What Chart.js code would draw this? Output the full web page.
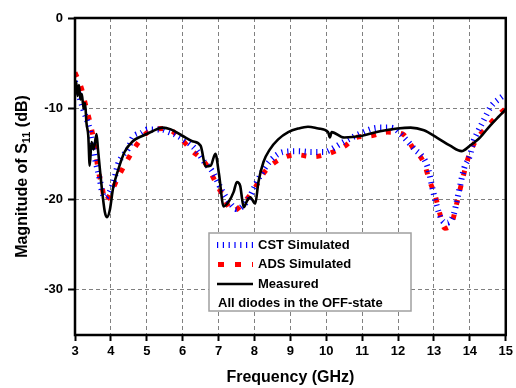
<!DOCTYPE html>
<html>
<head>
<meta charset="utf-8">
<script src="https://cdn.jsdelivr.net/npm/chart.js@4.4.0/dist/chart.umd.min.js"></script>
<style>
html,body{margin:0;padding:0;background:#fff;}
#wrap{width:516px;height:388px;position:relative;}
</style>
</head>
<body>
<div id="wrap"><canvas id="c" width="516" height="388"></canvas></div>
<script>
// ---- data ----
const freqMeasured = [3.00,3.03,3.07,3.11,3.15,3.19,3.24,3.28,3.32,3.37,3.41,3.46,3.52,3.60,3.64,3.74,3.83,3.89,3.97,4.06,4.20,4.38,4.61,4.89,5.16,5.44,5.67,5.99,6.27,6.50,6.64,6.78,6.91,7.01,7.14,7.28,7.42,7.51,7.60,7.70,7.79,7.88,8.02,8.11,8.25,8.43,8.66,8.94,9.22,9.49,9.78,10.05,10.10,10.15,10.50,11.00,11.50,11.98,12.35,12.72,13.08,13.45,13.77,14.00,14.28,14.56,14.80,15.00];
const magMeasured  = [-8.0,-7.0,-8.6,-7.4,-9.0,-8.4,-10.0,-9.4,-11.6,-13.0,-16.3,-13.7,-14.5,-12.8,-14.5,-18.5,-21.4,-22.0,-21.2,-18.8,-16.8,-14.8,-13.6,-13.0,-12.5,-12.1,-12.3,-13.0,-13.6,-14.1,-16.4,-16.3,-15.0,-17.2,-20.8,-20.3,-19.2,-18.1,-18.5,-20.9,-20.2,-19.8,-20.5,-18.1,-15.9,-14.5,-13.4,-12.6,-12.2,-12.0,-12.2,-12.6,-13.2,-12.6,-13.2,-13.0,-12.5,-12.2,-12.1,-12.4,-13.2,-14.1,-14.7,-14.1,-13.2,-11.9,-10.9,-10.1];

const freqADS = [3.00,3.19,3.30,3.41,3.51,3.58,3.64,3.74,3.84,4.01,4.20,4.43,4.70,5.07,5.53,5.90,6.22,6.64,6.90,7.12,7.39,7.74,8.02,8.30,8.71,9.17,9.63,10.04,10.49,10.83,11.24,11.70,12.12,12.44,12.72,12.88,13.04,13.15,13.30,13.50,13.62,13.71,13.82,13.94,14.14,14.46,14.88,15.00];
const magADS  = [-6.0,-7.9,-9.7,-11.4,-13.2,-14.8,-16.7,-18.3,-20.2,-19.2,-17.6,-15.9,-14.1,-12.5,-12.2,-13.1,-14.5,-16.1,-18.0,-19.6,-21.3,-20.2,-18.7,-16.9,-15.6,-15.1,-15.3,-15.0,-14.2,-13.2,-13.0,-12.6,-12.8,-14.5,-16.0,-18.0,-19.7,-21.4,-23.2,-22.6,-20.7,-19.2,-17.4,-15.6,-13.7,-12.1,-10.4,-10.0];

const freqCST = [3.00,3.23,3.41,3.55,3.69,3.75,3.83,4.06,4.20,4.29,4.47,4.61,4.84,5.02,5.40,5.62,5.81,6.13,6.36,6.64,6.82,7.10,7.33,7.51,7.83,7.97,8.16,8.43,8.80,9.22,9.58,9.95,10.14,10.39,10.92,11.29,11.52,11.70,11.89,12.07,12.44,12.81,13.04,13.22,13.36,13.54,13.68,13.84,14.00,14.10,14.19,14.37,14.60,14.79,15.00];
const magCST  = [-7.0,-10.1,-12.3,-15.4,-17.8,-19.1,-19.8,-18.3,-16.1,-15.4,-14.5,-13.2,-12.7,-12.3,-12.3,-12.6,-12.9,-13.7,-14.5,-16.1,-16.9,-19.1,-20.5,-21.1,-20.0,-18.9,-17.4,-15.8,-14.8,-14.7,-14.8,-14.8,-14.5,-13.9,-12.8,-12.2,-12.1,-12.1,-12.2,-12.8,-14.4,-16.3,-20.2,-22.3,-22.6,-21.8,-19.4,-16.6,-15.2,-13.6,-12.8,-11.4,-9.7,-9.0,-8.4];

const xTickValues = [3,4,5,6,7,8,9,10,11,12,13,14,15];
const yTickValues = [0,-10,-20,-30];
const seriesNames = ['CST Simulated','ADS Simulated','Measured'];
const noteText = 'All diodes in the OFF-state';

function pts(xs, ys){ return xs.map((x,i)=>({x:x, y:ys[i]})); }

const FONT = '"Liberation Sans", Arial, sans-serif';

const framePlugin = {
  id:'frame',
  afterDatasetsDraw(chart){
    const ctx = chart.ctx, a = chart.chartArea;
    ctx.save();
    // legend box
    const lx=209, ly=233, lw=202, lh=78;
    ctx.fillStyle='#fff';
    ctx.fillRect(lx,ly,lw,lh);
    ctx.strokeStyle='#a0a0a0';
    ctx.lineWidth=1.5;
    ctx.strokeRect(lx,ly,lw,lh);
    ctx.font='bold 13px '+FONT;
    ctx.fillStyle='#000';
    ctx.textBaseline='middle';
    ctx.textAlign='left';
    const rows=[245,264.5,284];
    // CST sample
    ctx.strokeStyle='#0000ff'; ctx.lineWidth=6; ctx.setLineDash([1.2,4.6]);
    ctx.beginPath(); ctx.moveTo(217,rows[0]); ctx.lineTo(253,rows[0]); ctx.stroke();
    // ADS sample
    ctx.strokeStyle='#ff0000'; ctx.lineWidth=5; ctx.setLineDash([6,11]);
    ctx.beginPath(); ctx.moveTo(218,rows[1]); ctx.lineTo(253,rows[1]); ctx.stroke();
    // Measured sample
    ctx.strokeStyle='#000'; ctx.lineWidth=2.5; ctx.setLineDash([]);
    ctx.beginPath(); ctx.moveTo(217,rows[2]); ctx.lineTo(253,rows[2]); ctx.stroke();
    ctx.fillText(seriesNames[0],258,rows[0]);
    ctx.fillText(seriesNames[1],258,rows[1]);
    ctx.fillText(seriesNames[2],258,rows[2]);
    ctx.fillText(noteText,218,303);
    // frame
    ctx.strokeStyle='#000'; ctx.lineWidth=2.5;
    ctx.strokeRect(a.left,a.top,a.right-a.left,a.bottom-a.top);
    ctx.restore();
  },
  afterDraw(chart){
    const ctx=chart.ctx, a=chart.chartArea;
    ctx.save();
    ctx.fillStyle='#000';
    ctx.font='bold 16px '+FONT;
    ctx.textAlign='center'; ctx.textBaseline='middle';
    ctx.fillText('Frequency (GHz)',(a.left+a.right)/2,378);
    // y title with subscript
    ctx.translate(23,(a.top+a.bottom)/2);
    ctx.rotate(-Math.PI/2);
    const p1='Magnitude of S', sub='11', p2=' (dB)';
    ctx.font='bold 16px '+FONT;
    const w1=ctx.measureText(p1).width, w3=ctx.measureText(p2).width;
    ctx.font='bold 11px '+FONT;
    const w2=ctx.measureText(sub).width;
    let x=-(w1+w2+w3)/2;
    ctx.textAlign='left';
    ctx.font='bold 16px '+FONT;
    ctx.fillText(p1,x,0); x+=w1;
    ctx.font='bold 11px '+FONT;
    ctx.fillText(sub,x,4); x+=w2;
    ctx.font='bold 16px '+FONT;
    ctx.fillText(p2,x,0);
    ctx.restore();
  }
};

new Chart(document.getElementById('c'),{
  type:'line',
  data:{datasets:[
    {label:seriesNames[1], data:pts(freqADS,magADS), borderColor:'#ff0000', borderWidth:5, borderDash:[5,10], pointRadius:0, cubicInterpolationMode:'monotone', fill:false, order:3},
    {label:seriesNames[0], data:pts(freqCST,magCST), borderColor:'#0000ff', borderWidth:6, borderDash:[1.2,4.6], pointRadius:0, cubicInterpolationMode:'monotone', fill:false, order:2},
    {label:seriesNames[2], data:pts(freqMeasured,magMeasured), borderColor:'#000000', borderWidth:2.6, pointRadius:0, cubicInterpolationMode:'monotone', fill:false, order:1}
  ]},
  options:{
    responsive:false, animation:false,
    layout:{padding:{left:0,top:18,right:7,bottom:0}},
    plugins:{legend:{display:false}, tooltip:{enabled:false}},
    scales:{
      x:{type:'linear', min:3, max:15,
        afterFit(s){ s.height=53; },
        afterBuildTicks(s){ s.ticks = xTickValues.map(v=>({value:v})); },
        ticks:{font:{family:FONT,size:13,weight:'bold'}, color:'#000', padding:3, maxRotation:0},
        grid:{color:'#808080', lineWidth:1, tickColor:'#000', tickLength:6, tickWidth:2, tickBorderDash:[]},
        border:{display:false, dash:[4,3]}
      },
      y:{type:'linear', min:-35, max:0,
        afterFit(s){ s.width=75; },
        afterBuildTicks(s){ s.ticks = yTickValues.map(v=>({value:v})); },
        ticks:{font:{family:FONT,size:13,weight:'bold'}, color:'#000', padding:5},
        grid:{color:'#808080', lineWidth:1, tickColor:'#000', tickLength:7, tickWidth:2, tickBorderDash:[]},
        border:{display:false, dash:[4,3]}
      }
    }
  },
  plugins:[framePlugin]
});
</script>
</body>
</html>
